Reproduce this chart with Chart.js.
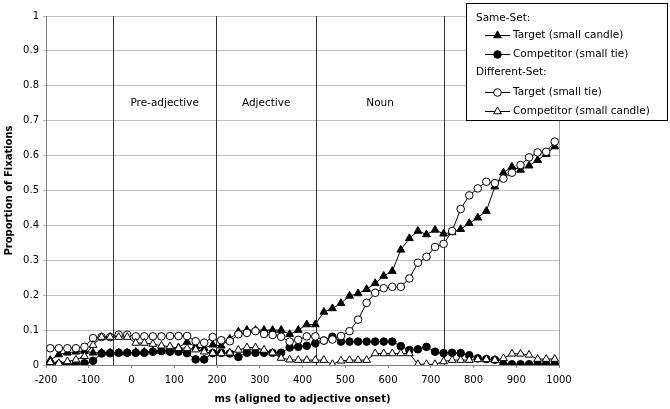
<!DOCTYPE html>
<html><head><meta charset="utf-8">
<script src="https://cdn.jsdelivr.net/npm/chart.js@4/dist/chart.umd.min.js"></script>
<style>html,body{margin:0;padding:0;background:#fff;}#wrap{position:relative;width:670px;height:409px;}</style>
</head><body><div id="wrap"><canvas id="c" width="670" height="409"></canvas></div>
<script>
// time bins (ms, aligned to adjective onset)
const timeMs = [-190,-170,-150,-130,-110,-90,-70,-50,-30,-10,10,30,50,70,90,110,130,150,170,190,210,230,250,270,290,310,330,350,370,390,410,430,450,470,490,510,530,550,570,590,610,630,650,670,690,710,730,750,770,790,810,830,850,870,890,910,930,950,970,990];

// Same-Set
const sameTarget = [0.014,0.03,0.035,0.038,0.04,0.035,0.035,0.035,0.035,0.035,0.037,0.037,0.04,0.04,0.045,0.05,0.066,0.052,0.048,0.058,0.055,0.075,0.095,0.1,0.1,0.1,0.1,0.1,0.088,0.1,0.116,0.116,0.152,0.162,0.177,0.198,0.205,0.217,0.234,0.255,0.269,0.33,0.363,0.384,0.374,0.387,0.376,0.38,0.389,0.406,0.422,0.441,0.511,0.551,0.568,0.559,0.571,0.587,0.604,0.626];
const sameCompetitor = [0.005,0.002,0.002,0.002,0.005,0.012,0.033,0.034,0.035,0.035,0.035,0.035,0.038,0.04,0.038,0.038,0.034,0.016,0.016,0.034,0.035,0.033,0.023,0.035,0.035,0.035,0.035,0.035,0.05,0.052,0.055,0.062,0.07,0.081,0.067,0.067,0.067,0.067,0.067,0.067,0.067,0.054,0.043,0.045,0.052,0.038,0.034,0.035,0.034,0.028,0.019,0.017,0.015,0.002,0.002,0.002,0.002,0.002,0.002,0.002];
// Different-Set
const diffTarget = [0.048,0.048,0.048,0.048,0.052,0.077,0.08,0.08,0.087,0.087,0.082,0.082,0.082,0.082,0.083,0.083,0.083,0.068,0.064,0.08,0.071,0.068,0.088,0.092,0.097,0.089,0.086,0.081,0.067,0.072,0.082,0.082,0.07,0.073,0.083,0.097,0.13,0.178,0.207,0.22,0.224,0.224,0.248,0.293,0.31,0.338,0.347,0.384,0.447,0.486,0.506,0.525,0.521,0.534,0.551,0.573,0.595,0.609,0.611,0.64];
const diffCompetitor = [0.008,0.005,0.01,0.015,0.025,0.057,0.08,0.08,0.08,0.08,0.063,0.063,0.06,0.055,0.053,0.048,0.048,0.044,0.038,0.034,0.033,0.035,0.043,0.05,0.05,0.043,0.035,0.02,0.015,0.014,0.014,0.014,0.014,0.002,0.012,0.014,0.014,0.014,0.033,0.033,0.033,0.033,0.033,0.002,0.002,0.002,0.01,0.014,0.014,0.014,0.016,0.016,0.014,0.019,0.032,0.032,0.029,0.017,0.017,0.017];

const seriesLabels = ["Target (small candle)","Competitor (small tie)","Target (small tie)","Competitor (small candle)"];
const groupLabels = ["Same-Set:","Different-Set:"];
const regionBounds = [-43,198,432,731];
const regionLabels = ["Pre-adjective","Adjective","Noun"];
const yTickValues = [0,0.1,0.2,0.3,0.4,0.5,0.6,0.7,0.8,0.9,1];
const xTickValues = [-200,-100,0,100,200,300,400,500,600,700,800,900,1000];

const FONT = "'DejaVu Sans', Verdana, sans-serif";
const toXY = arr => arr.map((v,i)=>({x: timeMs[i], y: v}));

function mkDs(label, data, style, filled, order){
  return {label, data: toXY(data), borderColor:'#000', borderWidth:1,
    pointStyle: style, pointRadius: style==='triangle'?4.5:3.8, pointHoverRadius: 4,
    pointBackgroundColor: filled?'#000':'#fff', pointBorderColor:'#000', pointBorderWidth:1,
    backgroundColor: filled?'#000':'#fff', fill:false, tension:0, order};
}

const datasets = [
  mkDs(seriesLabels[0], sameTarget, 'triangle', true, 3),
  mkDs(seriesLabels[1], sameCompetitor, 'circle', true, 2),
  mkDs(seriesLabels[2], diffTarget, 'circle', false, 1),
  mkDs(seriesLabels[3], diffCompetitor, 'triangle', false, 0)
];

function drawMarker(ctx, style, filled, x, y, r){
  ctx.save();
  ctx.beginPath();
  if(style==='circle'){ ctx.arc(x,y,r,0,Math.PI*2); }
  else {
    ctx.moveTo(x, y - r);
    ctx.lineTo(x + r*0.866, y + r*0.5);
    ctx.lineTo(x - r*0.866, y + r*0.5);
    ctx.closePath();
  }
  ctx.fillStyle = filled?'#000':'#fff';
  ctx.fill();
  ctx.lineWidth = 1; ctx.strokeStyle = '#000'; ctx.stroke();
  ctx.restore();
}

const overlay = {
  id:'overlay',
  beforeDatasetsDraw(chart){
    const {ctx, chartArea:a, scales:{x,y}} = chart;
    ctx.save();
    ctx.strokeStyle = '#a0a0a0'; ctx.lineWidth = 1;
    ctx.beginPath(); ctx.moveTo(Math.round(a.right)+0.5, a.top); ctx.lineTo(Math.round(a.right)+0.5, a.bottom); ctx.stroke();
    ctx.strokeStyle = '#333'; ctx.lineWidth = 1;
    regionBounds.forEach(b=>{
      const px = Math.round(x.getPixelForValue(b))+0.5;
      ctx.beginPath(); ctx.moveTo(px, a.top); ctx.lineTo(px, a.bottom); ctx.stroke();
    });
    ctx.fillStyle = '#000'; ctx.font = '10.5px ' + FONT; ctx.textAlign='center'; ctx.textBaseline='middle';
    regionLabels.forEach((t,i)=>{
      const cx = (x.getPixelForValue(regionBounds[i]) + x.getPixelForValue(regionBounds[i+1]))/2;
      ctx.fillText(t, cx, y.getPixelForValue(0.75));
    });
    ctx.restore();
  },
  afterDraw(chart){
    const ctx = chart.ctx;
    ctx.save();
    const bx=466.5, by=3.5, bw=201, bh=117;
    ctx.fillStyle='#fff'; ctx.fillRect(bx,by,bw,bh);
    ctx.strokeStyle='#000'; ctx.lineWidth=1; ctx.strokeRect(bx,by,bw,bh);
    ctx.font = '10.5px ' + FONT; ctx.fillStyle='#000'; ctx.textBaseline='middle'; ctx.textAlign='left';
    const rows = [
      {h: groupLabels[0], y:18},
      {d:0, y:35},{d:1, y:54},
      {h: groupLabels[1], y:72},
      {d:2, y:92},{d:3, y:111}
    ];
    rows.forEach(r=>{
      if(r.h){ ctx.fillText(r.h, 476, r.y); return; }
      const ds = chart.data.datasets[r.d];
      ctx.strokeStyle='#000'; ctx.lineWidth=1;
      ctx.beginPath(); ctx.moveTo(485, Math.round(r.y)+0.5); ctx.lineTo(510, Math.round(r.y)+0.5); ctx.stroke();
      drawMarker(ctx, ds.pointStyle, ds.pointBackgroundColor==='#000', 497.5, r.y+0.5, ds.pointStyle==='triangle'?4.5:3.8);
      ctx.fillStyle='#000';
      ctx.fillText(ds.label, 513, r.y);
    });
    ctx.restore();
  }
};

new Chart(document.getElementById('c'), {
  type:'line',
  data:{datasets},
  options:{
    responsive:false, animation:false, devicePixelRatio:1,
    layout:{padding:{left:0, top:16, right:111, bottom:0}},
    plugins:{legend:{display:false}, tooltip:{enabled:false}},
    scales:{
      x:{type:'linear', min:-200, max:1000,
        afterBuildTicks(s){ s.ticks = xTickValues.map(v=>({value:v})); },
        afterFit(s){ s.height = 44; },
        grid:{drawOnChartArea:false, drawTicks:true, tickLength:3, color:'#808080'},
        border:{color:'#808080', width:1},
        ticks:{color:'#000', font:{family:FONT, size:10}, padding:6, maxRotation:0, autoSkip:false, callback:v=>String(v)},
        title:{display:true, text:'ms (aligned to adjective onset)', color:'#000', font:{family:FONT, size:10, weight:'bold'}, padding:{top:4,bottom:4}}
      },
      y:{type:'linear', min:0, max:1,
        afterBuildTicks(s){ s.ticks = yTickValues.map(v=>({value:v})); },
        afterFit(s){ s.width = 46; },
        grid:{color:'#c0c0c0', tickLength:3, drawTicks:true},
        border:{color:'#808080', width:1},
        ticks:{color:'#000', font:{family:FONT, size:10}, padding:4, callback:v=>String(+Number(v).toFixed(1))},
        title:{display:true, text:'Proportion of Fixations', color:'#000', font:{family:FONT, size:10, weight:'bold'}, padding:{top:3,bottom:3}}
      }
    }
  },
  plugins:[overlay]
});
</script></body></html>
